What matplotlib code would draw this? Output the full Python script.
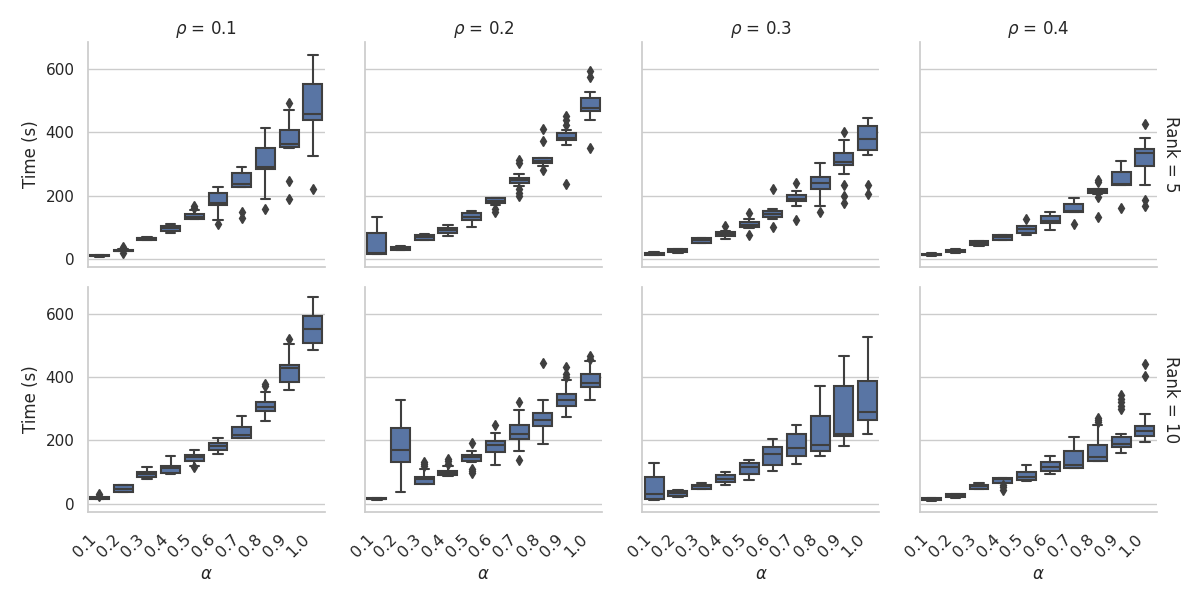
import numpy as np
import matplotlib
matplotlib.use("Agg")
import matplotlib.pyplot as plt
import seaborn as sns

# ------------------------------------------------
# Box statistics (Time in s)
# one inner list per rho, one value per alpha
# ------------------------------------------------
alphas = ["0.1", "0.2", "0.3", "0.4", "0.5", "0.6", "0.7", "0.8", "0.9", "1.0"]
rhos = ["0.1", "0.2", "0.3", "0.4"]
ranks = ["5", "10"]

# Rank = 5
q1_rank5 = [
    [9, 25, 61, 89, 125, 171, 227, 284, 355, 440],
    [16, 30, 61, 81, 122, 178, 239, 303, 376, 467],
    [13, 21, 52, 72, 100, 132, 182, 220, 296, 345],
    [12, 21, 43, 60, 83, 113, 147, 210, 235, 294],
]
med_rank5 = [
    [11, 27, 65, 97, 132, 176, 237, 292, 364, 457],
    [20, 34, 69, 93, 134, 183, 249, 308, 383, 476],
    [16, 26, 59, 79, 108, 141, 189, 241, 305, 379],
    [14, 25, 52, 69, 95, 121, 151, 216, 238, 336],
]
q3_rank5 = [
    [13, 30, 68, 104, 143, 207, 273, 352, 407, 553],
    [81, 38, 76, 99, 144, 192, 255, 318, 397, 508],
    [20, 31, 65, 84, 117, 151, 202, 260, 334, 419],
    [17, 30, 57, 75, 104, 135, 173, 221, 276, 347],
]
lo_rank5 = [
    [8, 24, 59, 83, 125, 123, 227, 190, 349, 324],
    [16, 28, 59, 73, 102, 172, 232, 294, 361, 438],
    [12, 20, 50, 63, 97, 125, 169, 166, 270, 330],
    [11, 20, 42, 59, 76, 92, 147, 205, 235, 235],
]
hi_rank5 = [
    [14, 32, 70, 112, 156, 226, 292, 415, 469, 643],
    [134, 40, 78, 106, 153, 192, 267, 318, 408, 528],
    [21, 32, 67, 90, 127, 159, 215, 304, 376, 446],
    [18, 31, 58, 76, 104, 149, 194, 222, 311, 381],
]
fliers_rank5 = [
    [[], [18, 37], [], [], [160, 168], [110], [131, 147], [157], [189, 246, 492], [221]],
    [[], [], [], [], [], [150, 158], [198, 210, 220, 303, 312], [281, 373, 410],
     [237, 424, 440, 452], [350, 575, 593]],
    [[], [], [], [103], [75, 146], [102, 220], [123, 239], [148], [176, 199, 233, 402], [206, 234]],
    [[], [], [], [], [125], [], [112], [134, 195, 242, 250], [160], [166, 187, 426]],
]

# Rank = 10
q1_rank10 = [
    [15, 37, 84, 99, 135, 171, 208, 292, 385, 508],
    [14, 132, 63, 90, 135, 163, 205, 246, 309, 369],
    [14, 24, 48, 69, 93, 124, 151, 167, 214, 264],
    [11, 21, 48, 67, 74, 103, 113, 135, 179, 213],
]
med_rank10 = [
    [17, 47, 93, 114, 148, 182, 216, 306, 430, 553],
    [16, 169, 79, 97, 148, 185, 221, 266, 329, 383],
    [30, 34, 55, 79, 116, 156, 177, 186, 221, 290],
    [15, 25, 56, 79, 86, 116, 123, 148, 188, 230],
]
q3_rank10 = [
    [21, 58, 100, 121, 154, 192, 243, 321, 439, 593],
    [19, 240, 86, 103, 153, 198, 250, 286, 346, 409],
    [86, 42, 61, 90, 129, 179, 219, 276, 371, 387],
    [19, 30, 61, 82, 100, 132, 167, 185, 211, 246],
]
lo_rank10 = [
    [14, 36, 79, 95, 121, 158, 208, 260, 358, 487],
    [13, 39, 62, 89, 133, 123, 166, 190, 273, 327],
    [13, 23, 47, 61, 76, 105, 127, 152, 183, 219],
    [10, 20, 47, 66, 73, 93, 112, 134, 162, 194],
]
hi_rank10 = [
    [22, 59, 115, 150, 169, 207, 276, 352, 503, 652],
    [20, 327, 110, 118, 166, 225, 295, 327, 392, 450],
    [130, 43, 67, 102, 137, 204, 248, 371, 467, 527],
    [20, 31, 67, 83, 124, 150, 210, 248, 219, 283],
]
fliers_rank10 = [
    [[26, 31], [], [], [], [116], [], [], [372, 378], [520], []],
    [[], [], [119, 126, 132], [127, 135, 143], [98, 104, 110, 192], [250], [137, 322], [443],
     [401, 410, 432], [458, 466]],
    [[], [], [], [], [], [], [], [], [], []],
    [[], [], [], [45, 52, 60], [], [], [], [258, 265, 272], [298, 310, 320, 330, 345], [403, 440]],
]

stats_by_rank = [
    (q1_rank5, med_rank5, q3_rank5, lo_rank5, hi_rank5, fliers_rank5),
    (q1_rank10, med_rank10, q3_rank10, lo_rank10, hi_rank10, fliers_rank10),
]

# ------------------------------------------------
# Plot
# ------------------------------------------------
sns.set_theme(style="whitegrid")
box_color = sns.desaturate(sns.color_palette("deep")[0], 0.75)
line_color = "#3f3f3f"

fig, axes = plt.subplots(2, 4, figsize=(12, 6), dpi=100, sharex=True, sharey=True)
fig.subplots_adjust(left=0.073, right=0.964, top=0.93, bottom=0.147, wspace=0.17, hspace=0.088)

for r, (q1s, meds, q3s, los, his, fls) in enumerate(stats_by_rank):
    for c in range(len(rhos)):
        ax = axes[r, c]
        stats = []
        for i in range(len(alphas)):
            stats.append({
                "med": meds[c][i], "q1": q1s[c][i], "q3": q3s[c][i],
                "whislo": los[c][i], "whishi": his[c][i], "fliers": fls[c][i],
            })
        ax.bxp(stats, positions=np.arange(len(alphas)), widths=0.8, patch_artist=True,
               boxprops=dict(facecolor=box_color, edgecolor=line_color, linewidth=1.5),
               whiskerprops=dict(color=line_color, linewidth=1.5),
               capprops=dict(color=line_color, linewidth=1.5),
               medianprops=dict(color=line_color, linewidth=1.5),
               flierprops=dict(marker="d", markerfacecolor=line_color,
                               markeredgecolor=line_color, markersize=5))
        ax.grid(False, axis="x")
        ax.set_xlim(-0.5, len(alphas) - 0.5)
        ax.set_ylim(-25, 685)
        ax.set_yticks([0, 200, 400, 600])
        ax.set_xticks(np.arange(len(alphas)))
        ax.set_xticklabels(alphas, rotation=45, ha="right")
        ax.tick_params(axis="x", pad=8, labelsize=11.5)
        for side in ["top", "right"]:
            ax.spines[side].set_visible(False)
        if r == 0:
            ax.set_title(r"$\rho$ = " + rhos[c], fontsize=12)
        else:
            ax.set_xlabel(r"$\alpha$", fontsize=12)
        if c == 0:
            ax.set_ylabel("Time (s)", fontsize=12)
        if c == len(rhos) - 1:
            ax.annotate("Rank = " + ranks[r], xy=(1.02, 0.5), xycoords="axes fraction",
                        rotation=270, ha="left", va="center", fontsize=12)

plt.savefig("out.png", dpi=100)
